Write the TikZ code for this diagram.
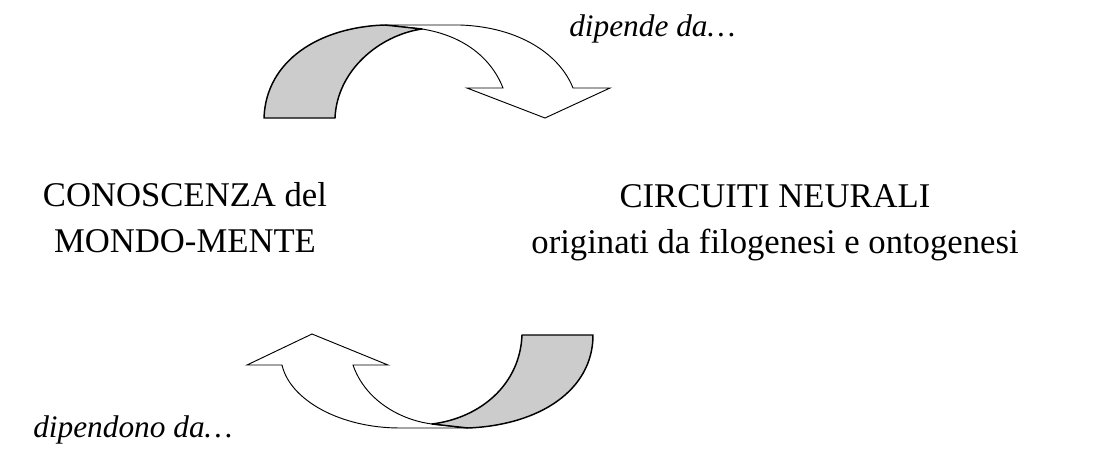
\documentclass[tikz,border=0pt]{standalone}
\usepackage{fontspec}
\setmainfont{Liberation Serif}
\usepackage{tikz}

\tikzset{
  band/.style={draw, line width=1.1pt, fill=black!20, line join=round},
  head/.style={draw, line width=0.7pt, fill=white, line join=miter},
  bigtext/.style={inner sep=0pt, align=center, font=\fontsize{26}{34.5}\selectfont},
  smalltext/.style={inner sep=0pt, font=\fontsize{23.5}{28}\selectfont\itshape}
}

\begin{document}
\begin{tikzpicture}[x=0.75pt,y=0.75pt,yscale=-1,xscale=1]
\useasboundingbox (0,0) rectangle (1107,457);

%Shape: Curved Arrow top, white part
\draw [head] (385,25) -- (460,25) .. controls (520,27) and (560,55) .. (573,88) -- (610,88) -- (545,118) -- (467,88) -- (503,88) .. controls (490,55) and (460,35) .. (422,29) -- cycle ;
%Shape: Curved Arrow top, grey part
\draw [band] (264,118) .. controls (266,60) and (320,27) .. (385,25) -- (422,29) .. controls (380,35) and (337,70) .. (335,118) -- cycle ;

%Shape: Curved Arrow bottom, white part
\draw [head] (468,428) -- (400,428) .. controls (340,428) and (290,400) .. (282,365) -- (247,365) -- (312,334) -- (388,365) -- (353,365) .. controls (365,400) and (400,420) .. (432,424) -- cycle ;
%Shape: Curved Arrow bottom, grey part
\draw [band] (593,335) .. controls (593,390) and (540,425) .. (468,428) -- (432,424) .. controls (480,418) and (520,385) .. (522,335) -- cycle ;

% Text Node
\node [bigtext, anchor=base] (mondo) at (185,252) {CONOSCENZA del\\MONDO-MENTE};
% Text Node
\node [bigtext, anchor=base] (circuiti) at (775,253) {CIRCUITI NEURALI\\originati da filogenesi e ontogenesi};
% Text Node
\node [smalltext, anchor=base west] (dipende) at (569,36) {dipende da…};
% Text Node
\node [smalltext, anchor=base west] (dipendono) at (33,437) {dipendono da…};

\end{tikzpicture}
\end{document}
